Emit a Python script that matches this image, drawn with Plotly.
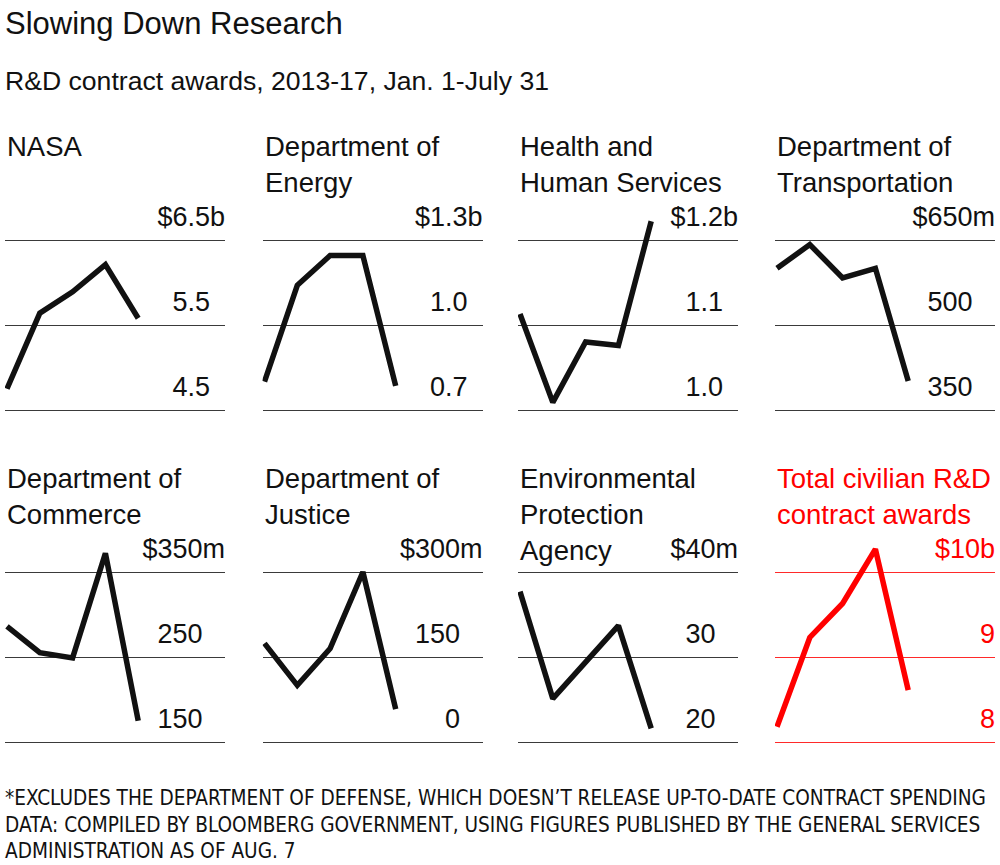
import plotly.graph_objects as go

years = [2013, 2014, 2015, 2016, 2017]

titles = ["NASA", "Department of<br>Energy", "Health and<br>Human Services",
          "Department of<br>Transportation", "Department of<br>Commerce",
          "Department of<br>Justice", "Environmental<br>Protection<br>Agency",
          "Total civilian R&D<br>contract awards"]

nasa = [4.75, 5.64, 5.89, 6.21, 5.58]
energy = [0.80, 1.14, 1.245, 1.245, 0.785]
hhs = [1.113, 1.009, 1.080, 1.076, 1.222]
transportation = [600, 642, 583, 600, 401]
commerce = [286, 255, 249, 372, 175]
justice = [174, 100, 165, 300, 58]
epa = [37.7, 25.1, 29.4, 33.7, 21.6]
total = [8.18, 9.23, 9.63, 10.27, 8.61]

series = [nasa, energy, hhs, transportation, commerce, justice, epa, total]

tickvals = [[4.5, 5.5, 6.5], [0.7, 1.0, 1.3], [1.0, 1.1, 1.2], [350, 500, 650],
            [150, 250, 350], [0, 150, 300], [20, 30, 40], [8, 9, 10]]
ticktexts = [["4.5", "5.5", "$6.5b"], ["0.7", "1.0", "$1.3b"], ["1.0", "1.1", "$1.2b"],
             ["350", "500", "$650m"], ["150", "250", "$350m"], ["0", "150", "$300m"],
             ["20", "30", "$40m"], ["8", "9", "$10b"]]

footnote_lines = [
    "*EXCLUDES THE DEPARTMENT OF DEFENSE, WHICH DOESN\u2019T RELEASE UP-TO-DATE CONTRACT SPENDING",
    "DATA: COMPILED BY BLOOMBERG GOVERNMENT, USING FIGURES PUBLISHED BY THE GENERAL SERVICES",
    "ADMINISTRATION AS OF AUG. 7",
]

W, H = 1000, 865
FONT = "Liberation Sans, Arial, sans-serif"
BLACK = "#111111"
RED = "#ff0000"

col_x = [5, 262.5, 518, 775]
panel_w = 220
row_grid = [(240, 410), (572, 742)]   # pixel y of top and bottom gridline
row_dom = [(195, 425), (527, 757)]
title_y = [129, 461]
foot_y = [798, 825, 851]
first_pt = 2
pt_step = 32.8


def padded(texts, align_unit):
    """Lower labels line up with the number part of the top label (hidden unit suffix)."""
    unit = texts[-1][-1]
    if not align_unit:
        return list(texts)
    hidden = '<span style="color:rgba(0,0,0,0)">%s</span>' % unit
    return [t + hidden for t in texts[:-1]] + [texts[-1]]


fig = go.Figure()
for i in range(8):
    r, c = divmod(i, 4)
    color = RED if i == 7 else BLACK
    gcolor = "#ff2a2a" if i == 7 else "#3a3a3a"
    n = i + 1
    xa = "xaxis" if n == 1 else f"xaxis{n}"
    ya = "yaxis" if n == 1 else f"yaxis{n}"
    xr = "x" if n == 1 else f"x{n}"
    yr = "y" if n == 1 else f"y{n}"
    x0 = col_x[c]
    x1 = x0 + panel_w
    gt, gb = row_grid[r]
    dt, db = row_dom[r]
    tv = tickvals[i]
    upp = (tv[2] - tv[0]) / (gb - gt)  # units per pixel
    yrange = [tv[0] - (db - gb) * upp, tv[2] + (gt - dt) * upp]
    xrange = [years[0] - first_pt / pt_step, years[0] + (panel_w - first_pt) / pt_step]

    fig.add_trace(go.Scatter(x=years, y=series[i], mode="lines",
                             line=dict(color=color, width=5.5),
                             xaxis=xr, yaxis=yr, showlegend=False, hoverinfo="x+y"))
    fig.update_layout(**{
        xa: dict(domain=[x0 / W, x1 / W], range=xrange, visible=False, fixedrange=True),
        ya: dict(domain=[1 - db / H, 1 - dt / H], range=yrange, anchor=xr,
                 side="right", tickvals=tv, ticktext=padded(ticktexts[i], i != 7),
                 ticklabelposition="inside top", ticklabelshift=-5, ticklabelstandoff=-3,
                 showgrid=True, gridcolor=gcolor, gridwidth=1.2,
                 zeroline=False, showline=False, ticks="",
                 tickfont=dict(family=FONT, size=27, color=color), fixedrange=True),
    })
    fig.add_annotation(text=titles[i], xref="paper", yref="paper",
                       x=x0 / W, y=1 - title_y[r] / H, xanchor="left", yanchor="top",
                       align="left", showarrow=False,
                       font=dict(family=FONT, size=27.5, color=color))

fig.add_annotation(text="Slowing Down Research", xref="paper", yref="paper",
                   x=3 / W, y=1 - 4 / H, xanchor="left", yanchor="top", showarrow=False,
                   font=dict(family=FONT, size=31, color=BLACK))
fig.add_annotation(text="R&D contract awards, 2013-17, Jan. 1-July 31", xref="paper", yref="paper",
                   x=3 / W, y=1 - 64 / H, xanchor="left", yanchor="top", showarrow=False,
                   font=dict(family=FONT, size=26.6, color=BLACK))
for line, fy in zip(footnote_lines, foot_y):
    fig.add_annotation(text=line, xref="paper", yref="paper", x=3 / W, y=1 - fy / H,
                       xanchor="left", yanchor="middle", align="left", showarrow=False,
                       font=dict(family="Liberation Sans Narrow, DejaVu Sans Condensed, sans-serif",
                                 size=20.6, color=BLACK))

fig.update_layout(width=W, height=H, margin=dict(l=0, r=0, t=0, b=0),
                  paper_bgcolor="white", plot_bgcolor="white")
fig.write_html("out.html", config={"displayModeBar": False},
               post_script="document.body.style.margin='0px';")
